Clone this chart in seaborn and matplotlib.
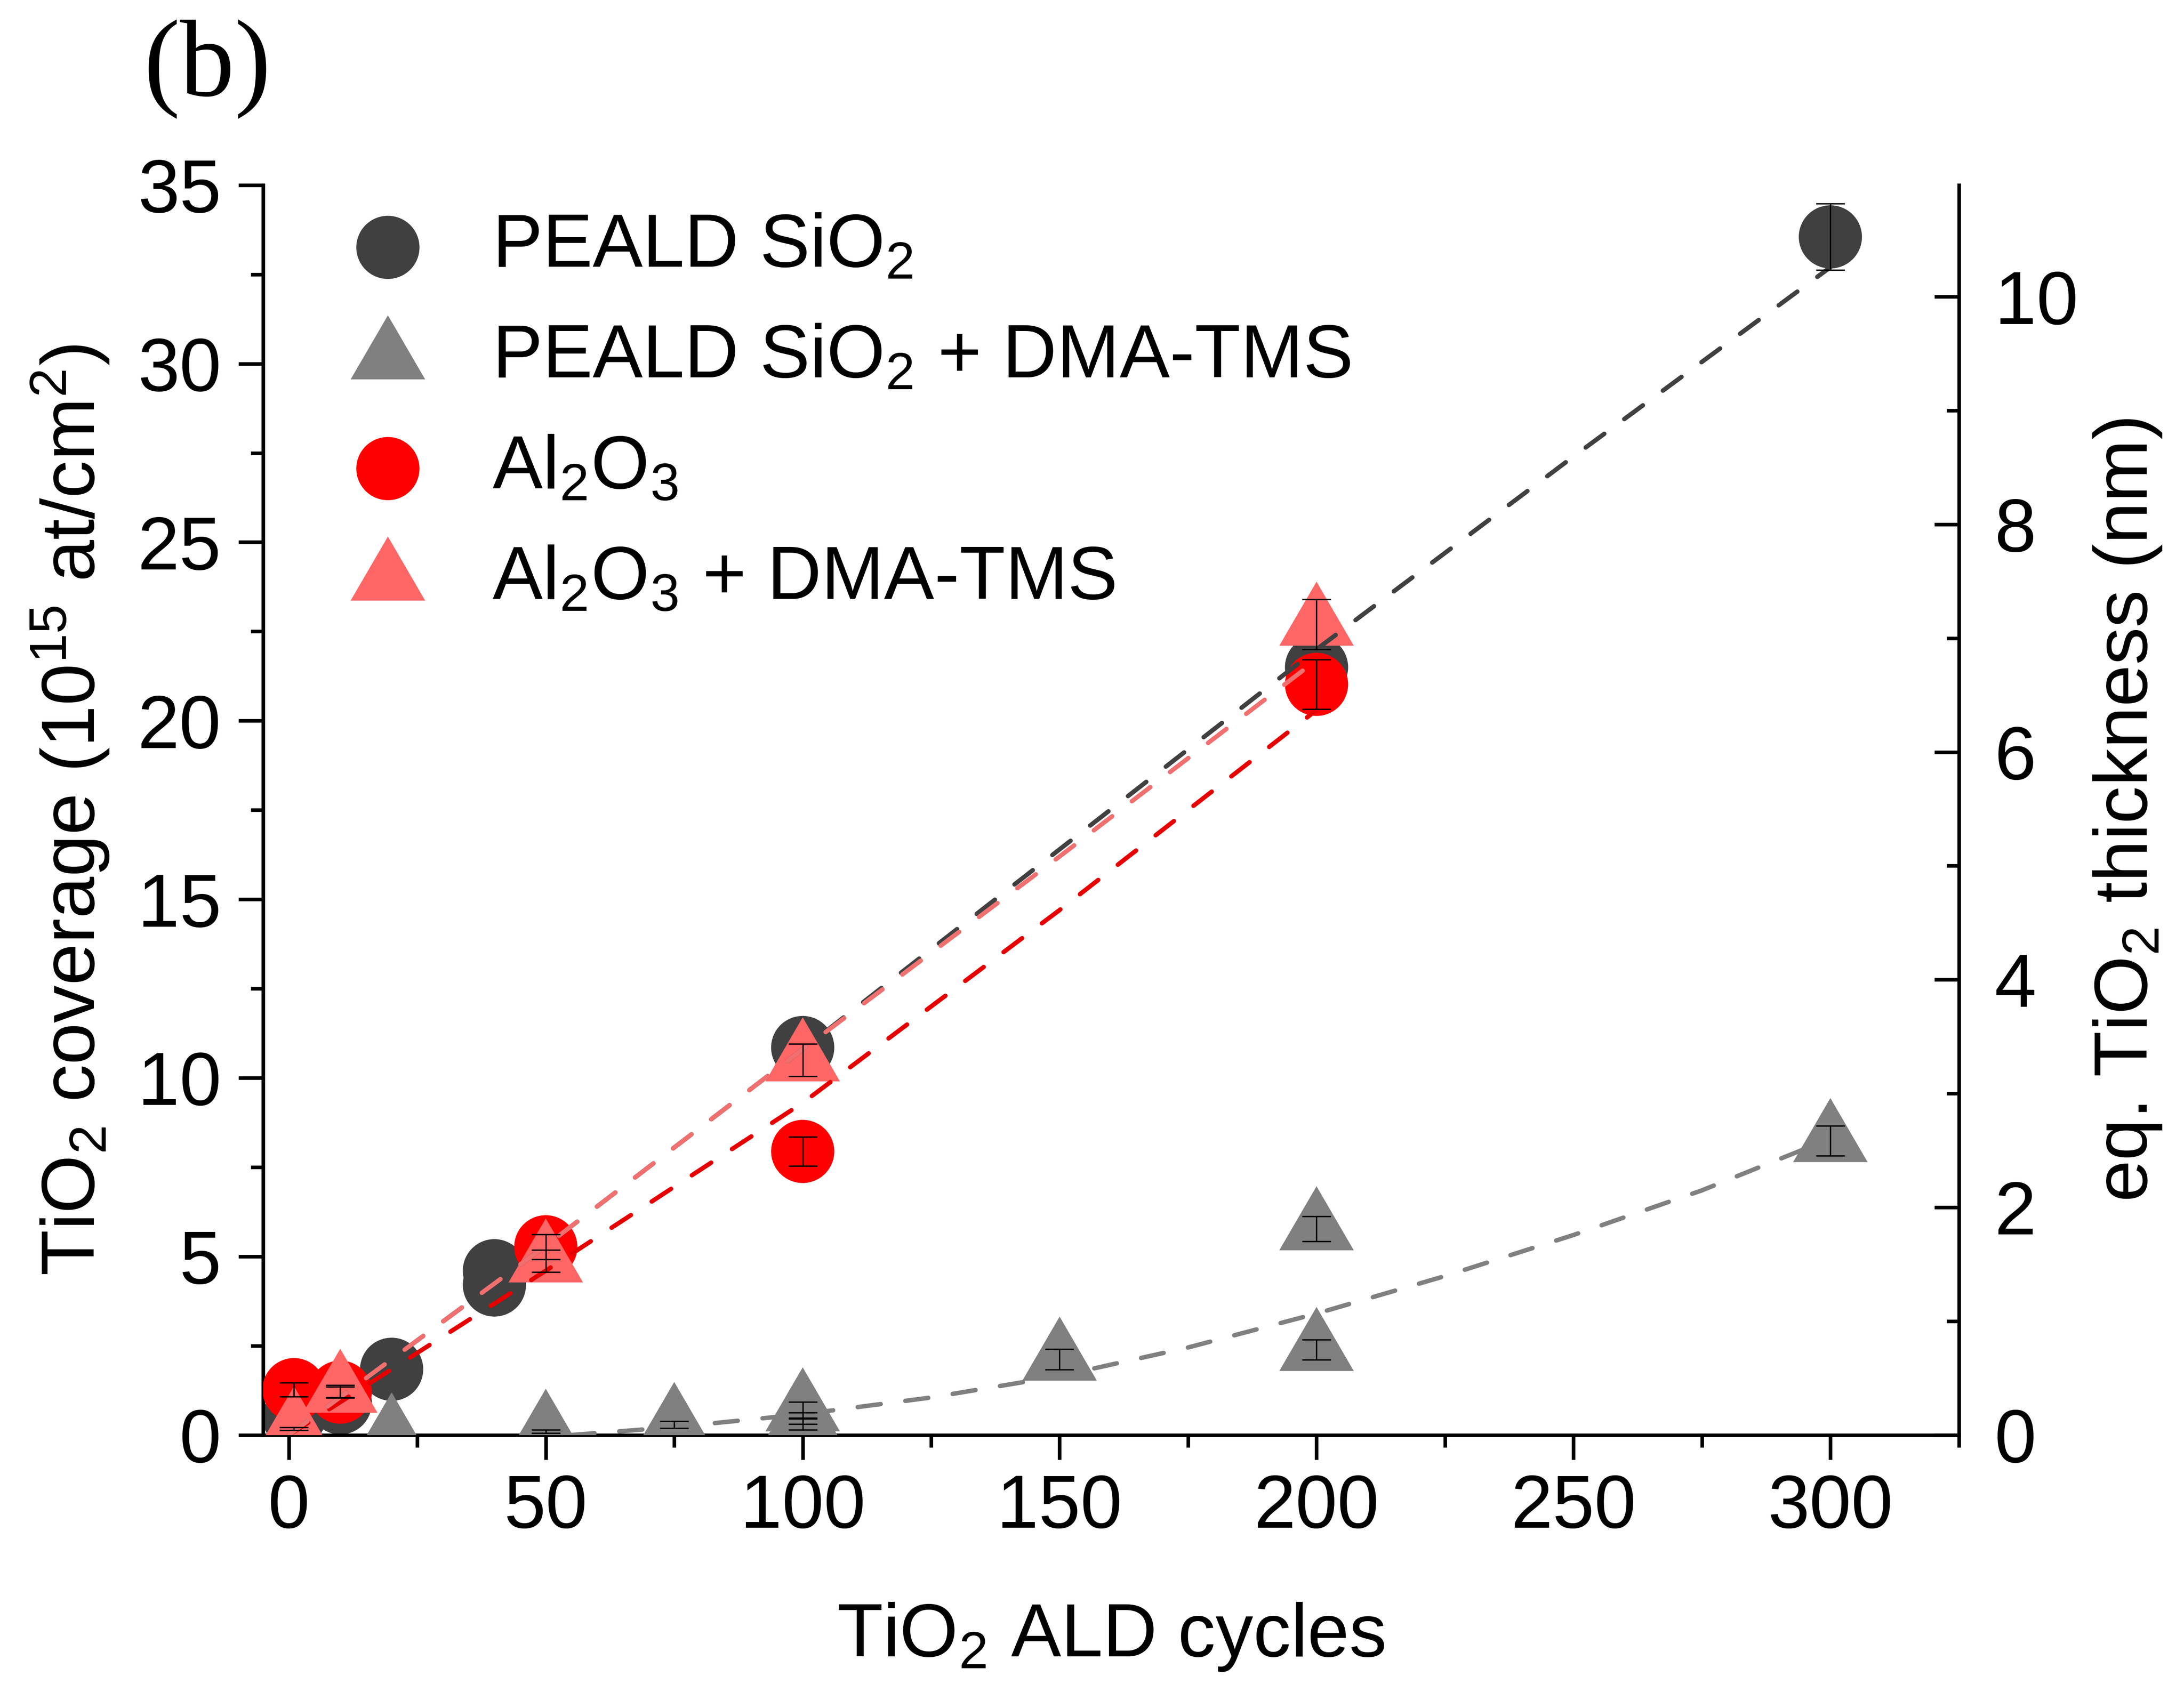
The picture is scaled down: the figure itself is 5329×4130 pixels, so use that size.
import matplotlib
matplotlib.use("Agg")
import matplotlib.pyplot as plt
import seaborn as sns
from matplotlib.ticker import MultipleLocator

# ---------------- data ----------------
labels = ["PEALD SiO$_2$", "PEALD SiO$_2$ + DMA-TMS", "Al$_2$O$_3$", "Al$_2$O$_3$ + DMA-TMS"]

cycles_peald = [1, 10, 20, 40, 40, 100, 200, 300]
cov_peald = [0.5, 0.9, 1.84, 4.6, 4.2, 10.85, 21.5, 33.55]
err_peald = [0, 0, 0, 0, 0, 0, 0, 0.93]

cycles_peald_dma = [20, 50, 75, 100, 100, 100, 150, 200, 200, 300]
cov_peald_dma = [0.0, 0.1, 0.29, 0.70, 0.47, 0.30, 2.12, 5.77, 2.39, 8.24]
err_peald_dma = [0, 0.05, 0.10, 0.22, 0.16, 0.16, 0.29, 0.35, 0.28, 0.42]

cycles_al = [1, 10, 50, 100, 200]
cov_al = [1.27, 1.2, 5.27, 7.94, 21.02]
err_al = [0.2, 0.15, 0.35, 0.41, 0.69]

cycles_al_dma = [1, 10, 50, 100, 200]
cov_al_dma = [0.17, 1.22, 4.87, 10.5, 22.7]
err_al_dma = [0.04, 0.18, 0.31, 0.45, 0.7]

# dashed guide curves
fit_x_peald = [0, 50, 100, 150, 200, 250, 300]
fit_y_peald = [0, 5.3, 10.8, 16.4, 22.0, 27.4, 32.7]
fit_x_peald_dma = [55, 75, 100, 125, 150, 175, 200, 225, 250, 275, 300]
fit_y_peald_dma = [0.0, 0.22, 0.58, 1.05, 1.65, 2.45, 3.4, 4.45, 5.6, 6.85, 8.3]
fit_x_al = [0, 50, 100, 150, 200]
fit_y_al = [0, 4.6, 9.3, 14.7, 20.3]
fit_x_al_dma = [0, 50, 100, 150, 200]
fit_y_al_dma = [0, 5.3, 10.8, 16.2, 21.7]

x_ticks = [0, 50, 100, 150, 200, 250, 300]
y_ticks = [0, 5, 10, 15, 20, 25, 30, 35]
y2_ticks = [0, 2, 4, 6, 8, 10]

# ---------------- style ----------------
sns.set_style("ticks")
plt.rcParams.update({
    "font.family": ["Liberation Sans", "DejaVu Sans"],
    "mathtext.fontset": "custom",
    "mathtext.rm": "Liberation Sans",
    "mathtext.it": "Liberation Sans:italic",
    "mathtext.bf": "Liberation Sans:bold",
    "mathtext.sf": "Liberation Sans",
    "axes.linewidth": 2.1,
    "axes.edgecolor": "black",
    "xtick.color": "black",
    "ytick.color": "black",
    "text.color": "black",
    "axes.labelcolor": "black",
})

FS = 44
c_dark, c_gray, c_red, c_pink = "#404040", "#808080", "#FF0000", "#FF6666"
l_dark, l_gray, l_red, l_pink = "#404040", "#808080", "#E60000", "#F07070"

tri = [(0, 0.573), (-0.5, -0.287), (0.5, -0.287), (0, 0.573)]
S_CIRC = 37.0 ** 2
S_TRI = 50.0 ** 2

fig = plt.figure(figsize=(5329 / 300, 4130 / 300), dpi=300)
ax = fig.add_axes([0.1205, 0.1519, 0.8969 - 0.1205, 0.8906 - 0.1519])

series = [
    (cycles_peald, cov_peald, err_peald, c_dark, "o", S_CIRC, labels[0]),
    (cycles_peald_dma, cov_peald_dma, err_peald_dma, c_gray, tri, S_TRI, labels[1]),
    (cycles_al, cov_al, err_al, c_red, "o", S_CIRC, labels[2]),
    (cycles_al_dma, cov_al_dma, err_al_dma, c_pink, tri, S_TRI, labels[3]),
]
for i, (xs, ys, es, col, mk, s, lab) in enumerate(series):
    sns.scatterplot(x=xs, y=ys, color=col, marker=mk, s=s, linewidth=0,
                    edgecolor="none", ax=ax, zorder=2 + i, label=lab, legend=False)

fits = [
    (fit_x_peald, fit_y_peald, l_dark),
    (fit_x_peald_dma, fit_y_peald_dma, l_gray),
    (fit_x_al, fit_y_al, l_red),
    (fit_x_al_dma, fit_y_al_dma, l_pink),
]
for j, (fx, fy, col) in enumerate(fits):
    sns.lineplot(x=fx, y=fy, color=col, linewidth=2.6, linestyle=(0, (5.2, 5.6)),
                 dash_capstyle="round", ax=ax, zorder=7 + j, estimator=None, sort=False,
                 legend=False)

for xs, ys, es, col, mk, s, lab in series:
    px = [a for a, e in zip(xs, es) if e > 0]
    py = [b for b, e in zip(ys, es) if e > 0]
    pe = [e for e in es if e > 0]
    ax.errorbar(px, py, yerr=pe, fmt="none", ecolor="black", elinewidth=0.8,
                capsize=8.5, capthick=0.8, zorder=12)

ax.set_xlim(-5, 325)
ax.set_ylim(0, 35)
ax.set_xticks(x_ticks)
ax.set_yticks(y_ticks)
ax.xaxis.set_minor_locator(MultipleLocator(25))
ax.yaxis.set_minor_locator(MultipleLocator(2.5))
ax.tick_params(axis="both", which="major", direction="out", length=14.5, width=2.1,
               labelsize=FS, pad=8)
ax.tick_params(axis="both", which="minor", direction="out", length=7.3, width=2.1)
ax.tick_params(axis="y", which="major", pad=10)
ax.spines["top"].set_visible(False)
ax.spines["right"].set_visible(False)

ax.set_xlabel("TiO$_2$ ALD cycles", fontsize=FS)
ax.set_ylabel("TiO$_2$ coverage (10$^{15}$ at/cm$^2$)", fontsize=FS)
ax.xaxis.set_label_coords(0.5, -0.133)
ax.yaxis.set_label_coords(-0.0897, 0.5)

ax2 = ax.twinx()
ax2.set_ylim(0, 10.98)
ax2.set_yticks(y2_ticks)
ax2.yaxis.set_minor_locator(MultipleLocator(1))
ax2.tick_params(axis="y", which="major", direction="in", length=14.5, width=2.1,
                labelsize=FS, pad=21)
ax2.tick_params(axis="y", which="minor", direction="in", length=7.3, width=2.1)
ax2.spines["top"].set_visible(False)
ax2.spines["left"].set_visible(False)
ax2.spines["bottom"].set_visible(False)
ax2.spines["right"].set_linewidth(2.1)
ax2.set_ylabel("eq. TiO$_2$ thickness (nm)", fontsize=FS)
ax2.yaxis.set_label_coords(1.0785, 0.5)

handles, labs = ax.get_legend_handles_labels()
ax.legend(handles, labs, loc="upper left", bbox_to_anchor=(0.0514, 0.978),
          frameon=False, fontsize=FS, handlelength=1.0, handletextpad=0.89,
          labelspacing=0.54, borderpad=0, borderaxespad=0, scatterpoints=1)

fig.text(0.0657, 0.959, "(b)", family=["Liberation Serif", "DejaVu Serif"],
         fontsize=64, ha="left", va="center")

fig.savefig("out.png", dpi=300, facecolor="white")
